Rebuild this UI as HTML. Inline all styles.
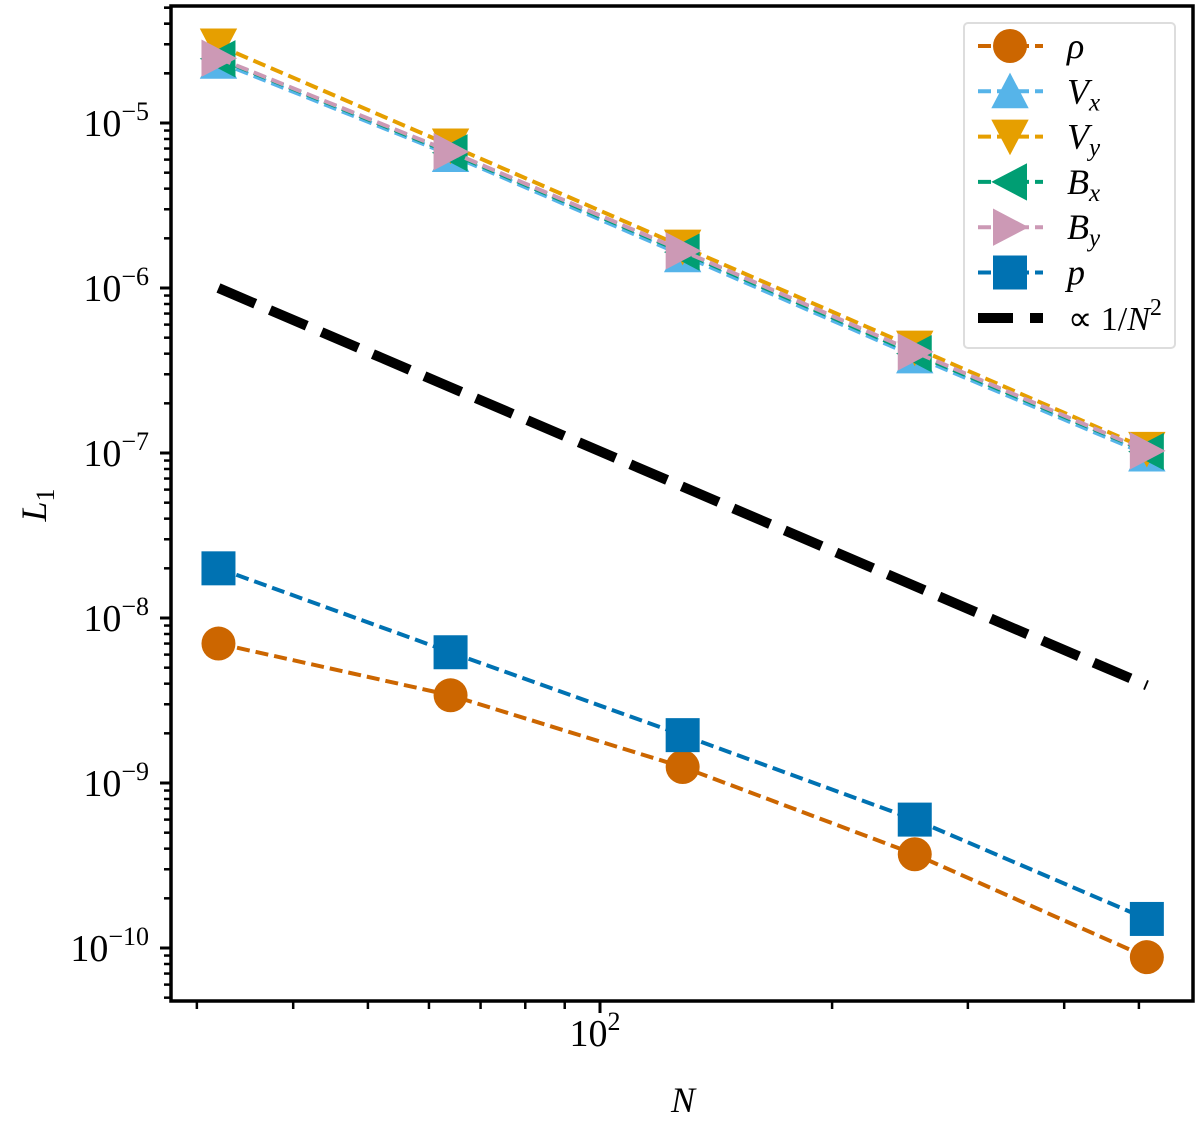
<!DOCTYPE html>
<html><head><meta charset="utf-8"><style>
body{margin:0;background:#fff}
svg, svg text{font-family:"Liberation Serif","Times New Roman",serif;fill:#000}
</style></head><body>
<svg id="chart" width="1200" height="1118" xmlns="http://www.w3.org/2000/svg" font-family="Liberation Serif, serif">
<g id="plot"></g>
</svg>
<script>
const Ns=[32,64,128,256,512];
const rho=[7.0e-9,3.4e-9,1.25e-9,3.7e-10,8.8e-11];
const Vx=[2.35e-5,6.4e-6,1.58e-6,3.85e-7,9.8e-8];
const Vy=[2.95e-5,7.3e-6,1.78e-6,4.35e-7,1.06e-7];
const Bx=[2.45e-5,6.6e-6,1.65e-6,4.0e-7,1.02e-7];
const By=[2.47e-5,6.7e-6,1.68e-6,4.1e-7,1.03e-7];
const pp=[2.0e-8,6.2e-9,1.95e-9,6.0e-10,1.5e-10];
const refStart=1.0e-6;
const yTickExps=[-10,-9,-8,-7,-6,-5];
const xMinorTicks=[30,40,50,60,70,80,90,200,300,400,500];

const NS="http://www.w3.org/2000/svg";
const L=171,R=1193,T=6,B=1001;
function sx(n){return 600+771*Math.log10(n/100);}
function sy(v){return 123+165*(-5-Math.log10(v));}
const g=document.getElementById('plot');
function el(tag,attrs,parent){const e=document.createElementNS(NS,tag);for(const k in attrs)e.setAttribute(k,attrs[k]);(parent||g).appendChild(e);return e;}

for(const e of yTickExps){
  const y=sy(Math.pow(10,e));
  const t=el('line',{x1:L-11,x2:L,y1:y,y2:y,stroke:'#000','stroke-width':3});
  
  
  const tx=el('text',{x:L-22,y:y+13,'font-size':38,'text-anchor':'end','font-family':'Liberation Serif, serif'});
  
  
  tx.innerHTML='10<tspan dy="-16" font-size="26">\u2212'+(-e)+'</tspan>';
  for(let m=2;m<=9;m++){
    const yy=sy(m*Math.pow(10,e));
    if(yy<T||yy>B)continue;
    const mt=el('line',{x1:L-7,x2:L,y1:yy,y2:yy,stroke:'#000','stroke-width':2.5});
    
    
  }
}
for(let m=2;m<=9;m++){for(const d of [1e-11,1e-5]){const yy=sy(m*d);if(yy<T||yy>B)continue;
  const mt=el('line',{x1:L-7,x2:L,y1:yy,y2:yy,stroke:'#000','stroke-width':2.5});
  
  }}
for(const n of xMinorTicks){
  const x=sx(n);
  const t=el('line',{x1:x,x2:x,y1:B,y2:B+8,stroke:'#000','stroke-width':2.5});
  
  
}
{const x=sx(100);
 const t=el('line',{x1:x,x2:x,y1:B,y2:B+12,stroke:'#000','stroke-width':3});
 
 
 const tx=el('text',{x:x-5,y:1046,'font-size':38,'text-anchor':'middle','font-family':'Liberation Serif, serif'});
 
 
 tx.innerHTML='10<tspan dy="-16" font-size="26">2</tspan>';}

const xl=el('text',{x:683,y:1112,'font-size':36,'font-style':'italic','text-anchor':'middle','font-family':'Liberation Serif, serif'});


xl.textContent='N';
const yl=el('text',{x:0,y:0,'font-size':36,'font-style':'italic','text-anchor':'middle',transform:'translate(46,505) rotate(-90)','font-family':'Liberation Serif, serif'});


yl.innerHTML='L<tspan dy="8" font-size="26" font-style="normal">1</tspan>';

function marker(type,x,y,c,parent,name){
  const s=17;let m;
  if(type==='o')m=el('circle',{cx:x,cy:y,r:s,fill:c},parent);
  else if(type==='s')m=el('rect',{x:x-s,y:y-s,width:2*s,height:2*s,fill:c},parent);
  else{let p;
    if(type==='^')p=[[x,y-s*1.1],[x-s*1.1,y+s],[x+s*1.1,y+s]];
    if(type==='v')p=[[x,y+s*1.1],[x-s*1.1,y-s],[x+s*1.1,y-s]];
    if(type==='<')p=[[x-s*1.1,y],[x+s,y-s*1.1],[x+s,y+s*1.1]];
    if(type==='>')p=[[x+s*1.1,y],[x-s,y-s*1.1],[x-s,y+s*1.1]];
    m=el('polygon',{points:p.map(q=>q.join(',')).join(' '),fill:c},parent);}
  
  
}
const series=[
 {n:'rho',d:rho,c:'#cc6600',m:'o'},
 {n:'vx',d:Vx,c:'#56b4e9',m:'^'},
 {n:'vy',d:Vy,c:'#e69f00',m:'v'},
 {n:'bx',d:Bx,c:'#009e73',m:'<'},
 {n:'by',d:By,c:'#cc99b5',m:'>'},
 {n:'p',d:pp,c:'#0072b2',m:'s'}];
for(const s of series){
  const sg=el('g',{});
  
  
  const pl=el('polyline',{points:Ns.map((n,i)=>sx(n)+','+sy(s.d[i])).join(' '),fill:'none',stroke:s.c,'stroke-width':4,'stroke-dasharray':'13,6'},sg);
  
  
  Ns.forEach((n,i)=>marker(s.m,sx(n),sy(s.d[i]),s.c,sg,'point-'+s.n));
}
const ref=el('line',{x1:sx(Ns[0]),y1:sy(refStart),x2:sx(Ns[4]),y2:sy(refStart*Math.pow(Ns[0]/Ns[4],2)),stroke:'#000','stroke-width':10,'stroke-dasharray':'40,16'});



const fr=el('rect',{x:L,y:T,width:R-L,height:B-T,fill:'none',stroke:'#000','stroke-width':3.5});



const lg=el('g',{});


el('rect',{x:964,y:23,width:211,height:325,rx:4,fill:'#fff',stroke:'#ddd','stroke-width':2},lg);
const labels=['ρ','V<tspan dy="7" font-size="25">x</tspan>','V<tspan dy="7" font-size="25">y</tspan>','B<tspan dy="7" font-size="25">x</tspan>','B<tspan dy="7" font-size="25">y</tspan>','p'];
series.forEach((s,i)=>{
  const y=46+i*45.3;
  const e=el('g',{},lg);
  
  
  el('line',{x1:978,x2:1043,y1:y,y2:y,stroke:s.c,'stroke-width':4,'stroke-dasharray':'13,6'},e);
  marker(s.m,1010,y,s.c,e,'legend-marker-'+s.n);
  const t=el('text',{x:1067,y:y+12,'font-size':36,'font-style':'italic','font-family':'Liberation Serif, serif'},e);
  t.innerHTML=labels[i];
});
{const y=318;const e=el('g',{},lg);
 
 
 el('line',{x1:978,x2:1043,y1:y,y2:y,stroke:'#000','stroke-width':10,'stroke-dasharray':'35,17'},e);
 const t=el('text',{x:1068,y:y+12,'font-size':34,'font-family':'Liberation Serif, serif'},e);
 t.innerHTML='∝ 1/<tspan font-style="italic">N</tspan><tspan dy="-15" font-size="24">2</tspan>';}
</script>
</body></html>
